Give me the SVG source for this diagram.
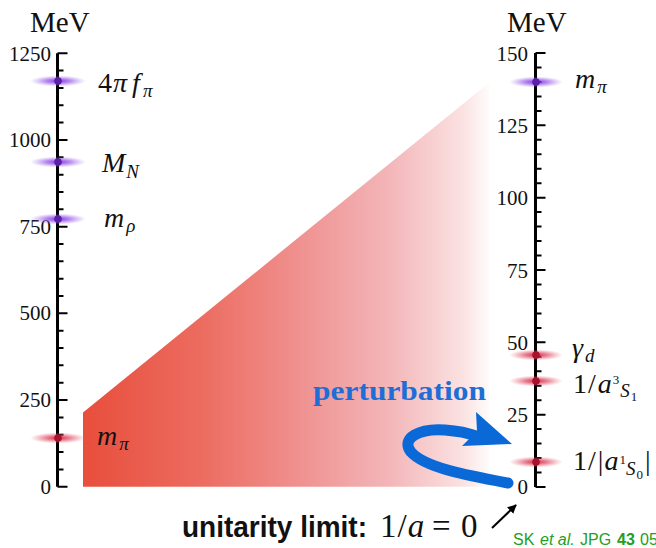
<svg xmlns="http://www.w3.org/2000/svg" width="656" height="548" viewBox="0 0 656 548">
<defs>
<style>
.ax{stroke:#000;stroke-width:3;fill:none}
.tk{stroke:#000;stroke-width:2;fill:none}
.num{font-family:"Liberation Serif","DejaVu Serif",serif;font-size:21px;fill:#111}
.unit{font-family:"Liberation Serif","DejaVu Serif",serif;font-size:29px;fill:#111}
.m{font-family:"Liberation Serif","DejaVu Serif",serif;font-size:28px;font-style:italic;fill:#111}
.r{font-style:normal}
.sub{font-size:19px}
.ss{font-size:13px}
.dotp{fill:#5a1ea8}
.dotr{fill:#a8102c}
</style>
<linearGradient id="fade" x1="83" y1="0" x2="492" y2="0" gradientUnits="userSpaceOnUse">
<stop offset="0" stop-color="#e84e3c"/>
<stop offset="0.29" stop-color="#ec6c60"/>
<stop offset="0.51" stop-color="#ef8e8c"/>
<stop offset="0.75" stop-color="#f3b6b9"/>
<stop offset="0.93" stop-color="#fbe2e2"/>
<stop offset="1" stop-color="#ffffff"/>
</linearGradient>
<radialGradient id="gp">
<stop offset="0" stop-color="#7a2be0" stop-opacity="0.95"/>
<stop offset="0.45" stop-color="#8d45e6" stop-opacity="0.6"/>
<stop offset="1" stop-color="#a070f0" stop-opacity="0"/>
</radialGradient>
<radialGradient id="gr">
<stop offset="0" stop-color="#d21c3c" stop-opacity="0.95"/>
<stop offset="0.45" stop-color="#dc3c58" stop-opacity="0.6"/>
<stop offset="1" stop-color="#e86070" stop-opacity="0"/>
</radialGradient>
<marker id="ah" viewBox="0 0 10 10" refX="9" refY="5" markerWidth="9" markerHeight="9" orient="auto" markerUnits="userSpaceOnUse">
<path d="M0,0 L10,5 L0,10 Z" fill="#000"/>
</marker>
</defs>

<g id="region">
<polygon points="83,412.5 490,82 490,486.7 83,486.7" fill="url(#fade)"/>
</g>

<g id="left-axis">
<text class="unit" x="30" y="32">MeV</text>
<path class="ax" d="M57.5,53.3 V486.7"/>
<path class="tk" d="M57.5,53.3h10M57.5,140h10M57.5,226.7h10M57.5,313.3h10M57.5,400h10M57.5,486.7h10"/>
<path class="tk" d="M57.5,70.6h6M57.5,88h6M57.5,105.3h6M57.5,122.6h6M57.5,157.3h6M57.5,174.7h6M57.5,192h6M57.5,209.3h6M57.5,244h6M57.5,261.3h6M57.5,278.7h6M57.5,296h6M57.5,330.7h6M57.5,348h6M57.5,365.3h6M57.5,382.7h6M57.5,417.4h6M57.5,434.7h6M57.5,452h6M57.5,469.4h6"/>
<g class="num" text-anchor="end" font-family="Liberation Serif, DejaVu Serif, serif">
<text x="51" y="61">1250</text>
<text x="51" y="147">1000</text>
<text x="51" y="234">750</text>
<text x="51" y="320">500</text>
<text x="51" y="407">250</text>
<text x="51" y="494">0</text>
</g>
</g>

<g id="right-axis">
<text class="unit" x="507" y="32">MeV</text>
<path class="ax" d="M535.5,53 V487"/>
<path class="tk" d="M535.5,53h10M535.5,125.3h10M535.5,197.7h10M535.5,270h10M535.5,342.3h10M535.5,414.7h10M535.5,487h10"/>
<path class="tk" d="M535.5,67.5h6M535.5,81.9h6M535.5,96.4h6M535.5,110.9h6M535.5,139.8h6M535.5,154.3h6M535.5,168.7h6M535.5,183.2h6M535.5,212.1h6M535.5,226.6h6M535.5,241.1h6M535.5,255.5h6M535.5,284.5h6M535.5,298.9h6M535.5,313.4h6M535.5,327.9h6M535.5,356.8h6M535.5,371.3h6M535.5,385.7h6M535.5,400.2h6M535.5,429.1h6M535.5,443.6h6M535.5,458.1h6M535.5,472.5h6"/>
<g class="num" text-anchor="end" font-family="Liberation Serif, DejaVu Serif, serif">
<text x="528" y="61">150</text>
<text x="528" y="133">125</text>
<text x="528" y="205">100</text>
<text x="528" y="278">75</text>
<text x="528" y="350">50</text>
<text x="528" y="422">25</text>
<text x="528" y="494">0</text>
</g>
</g>

<g id="n-4pifpi">
<ellipse cx="58" cy="81" rx="28" ry="5.5" fill="url(#gp)"/>
<circle class="dotp" cx="58" cy="81" r="3.8"/>
<text class="m" y="92"><tspan class="r" x="98">4</tspan><tspan x="113">π</tspan><tspan x="132">f</tspan><tspan class="sub" x="143" y="97">π</tspan></text>
</g>
<g id="n-MN">
<ellipse cx="58" cy="162" rx="28" ry="5.5" fill="url(#gp)"/>
<circle class="dotp" cx="58" cy="162" r="3.8"/>
<text class="m" y="172"><tspan x="102">M</tspan><tspan class="sub" dx="1" y="178">N</tspan></text>
</g>
<g id="n-mrho">
<ellipse cx="58" cy="219" rx="28" ry="5.5" fill="url(#gp)"/>
<circle class="dotp" cx="58" cy="219" r="3.8"/>
<text class="m" y="227"><tspan x="104">m</tspan><tspan class="sub" dx="2" y="232">ρ</tspan></text>
</g>
<g id="n-mpi-left">
<ellipse cx="58" cy="438" rx="28" ry="5.5" fill="url(#gr)"/>
<circle class="dotr" cx="58" cy="438" r="3.8"/>
<text class="m" y="445"><tspan x="97">m</tspan><tspan class="sub" dx="2" y="450">π</tspan></text>
</g>
<g id="n-mpi-right">
<ellipse cx="536" cy="82" rx="27" ry="5.5" fill="url(#gp)"/>
<circle class="dotp" cx="536" cy="82" r="3.8"/>
<text class="m" y="88"><tspan x="575">m</tspan><tspan class="sub" dx="2" y="93">π</tspan></text>
</g>
<g id="n-gammad">
<ellipse cx="536" cy="355" rx="27" ry="5.5" fill="url(#gr)"/>
<circle class="dotr" cx="536" cy="355" r="3.8"/>
<text class="m" y="357"><tspan x="572">γ</tspan><tspan class="sub" dx="2" y="362">d</tspan></text>
</g>
<g id="n-a3S1">
<ellipse cx="536" cy="381" rx="27" ry="5.5" fill="url(#gr)"/>
<circle class="dotr" cx="536" cy="381" r="3.8"/>
<text class="m" x="573" y="393"><tspan class="r">1</tspan><tspan class="r" dx="1">/</tspan><tspan dx="2">a</tspan><tspan class="ss r" dx="1" y="384">3</tspan><tspan class="sub" dx="1" y="397">S</tspan><tspan class="ss r" dx="1" y="401">1</tspan></text>
</g>
<g id="n-a1S0">
<ellipse cx="536" cy="462" rx="27" ry="5.5" fill="url(#gr)"/>
<circle class="dotr" cx="536" cy="462" r="3.8"/>
<text class="m" x="573" y="470"><tspan class="r">1</tspan><tspan class="r" dx="1">/</tspan><tspan class="r" dx="2">|</tspan><tspan dx="1">a</tspan><tspan class="ss r" dx="1" y="464">1</tspan><tspan class="sub" y="475">S</tspan><tspan class="ss r" dx="1" y="479">0</tspan><tspan class="r" dx="2" y="470">|</tspan></text>
</g>

<g id="n-perturbation">
<text x="313" y="400" font-family="Liberation Serif, DejaVu Serif, serif" font-weight="bold" font-size="28" fill="#1e6ed6" textLength="173" lengthAdjust="spacingAndGlyphs">perturbation</text>
</g>

<g id="n-unitarity">
<text x="182" y="537" font-family="Liberation Sans, Arial, sans-serif" font-weight="bold" font-size="29" fill="#111" textLength="185" lengthAdjust="spacingAndGlyphs">unitarity limit:</text>
<text class="m" y="537" style="font-size:33px"><tspan class="r" x="380">1</tspan><tspan class="r" dx="1">/</tspan><tspan dx="1">a</tspan><tspan class="r" x="432">=</tspan><tspan class="r" x="461">0</tspan></text>
</g>

<g id="n-citation">
<text y="545" font-family="Liberation Sans, Arial, sans-serif" font-size="16" fill="#22a022"><tspan x="513">SK</tspan><tspan x="540" font-style="italic">et al.</tspan><tspan x="580">JPG</tspan><tspan x="617" font-weight="bold">43</tspan><tspan x="640">05</tspan></text>
</g>

<g id="connectors">
<path d="M508,483 C470,476 425,468 411,452 C400,438 420,428 445,430 C458,431 468,433 476,436" fill="none" stroke="#0a69d7" stroke-width="11" stroke-linecap="round"/>
<polygon points="476,412 512,444 462,446 477,431" fill="#0a69d7"/>
<line x1="492" y1="528" x2="516" y2="505" stroke="#000" stroke-width="2" marker-end="url(#ah)"/>
</g>
</svg>
